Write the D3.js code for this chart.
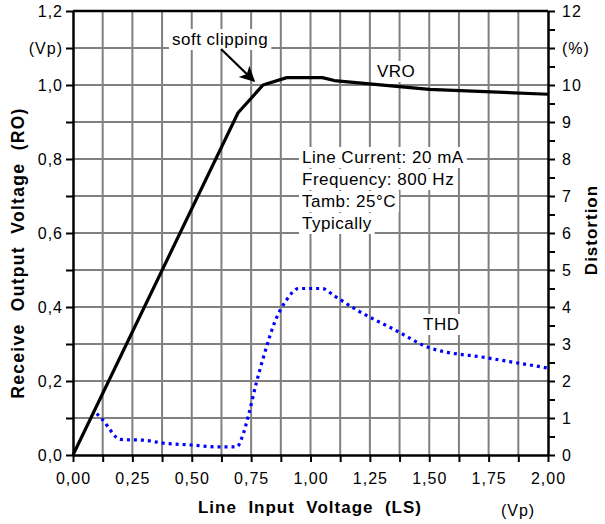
<!DOCTYPE html>
<html>
<head>
<meta charset="utf-8">
<script src="https://cdn.jsdelivr.net/npm/d3@7/dist/d3.min.js"></script>
<style>
body { margin: 0; background: #fff; }
text { font-family: "Liberation Sans", Arial, sans-serif; }
</style>
</head>
<body>
<div id="chart"></div>
<script>
// data
var vroX = [0, 0.695, 0.8, 0.9, 1.05, 1.1, 1.5, 2.0];
var vroY = [0, 0.925, 1.0, 1.02, 1.02, 1.012, 0.988, 0.975];

var thdX = [0.1, 0.125, 0.2, 0.3, 0.38, 0.5, 0.6, 0.69, 0.71, 0.74, 0.77, 0.8, 0.85, 0.9, 0.95, 1.05, 1.1, 1.2, 1.35, 1.5, 1.75, 2.0];
var thdY = [1.12, 0.95, 0.42, 0.4, 0.32, 0.27, 0.22, 0.22, 0.45, 1.1, 1.9, 2.6, 3.6, 4.2, 4.5, 4.5, 4.3, 3.9, 3.4, 2.9, 2.62, 2.35];

var xTicks = [0, 0.25, 0.5, 0.75, 1, 1.25, 1.5, 1.75, 2];
var yTicks = [0, 0.2, 0.4, 0.6, 0.8, 1.0, 1.2];
var rTicks = [0, 1, 2, 3, 4, 5, 6, 7, 8, 9, 10, 12];
var infoLines = ["Line Current: 20 mA", "Frequency: 800 Hz", "Tamb: 25\u00B0C", "Typically"];

var W = 605, H = 524;
var pL = 73, pR = 548, pT = 11, pB = 455;

var svg = d3.select("#chart").append("svg").attr("width", W).attr("height", H);

var x = d3.scaleLinear().domain([0, 2]).range([pL, pR]);
var y = d3.scaleLinear().domain([0, 1.2]).range([pB, pT]);
var y2 = d3.scaleLinear().domain([0, 12]).range([pB, pT]);

function comma(v, n){ return v.toFixed(n).replace(".", ","); }

///////////////////////////////////////
// grid
var grid = svg.append("g").attr("stroke", "#808080").attr("stroke-width", 2);
grid.selectAll(".gx").data(d3.range(1, 16).map(function(i){ return i * 0.125; }))
	.enter().append("line")
	.attr("x1", function(d){ return x(d); }).attr("x2", function(d){ return x(d); })
	.attr("y1", pT).attr("y2", pB);
grid.selectAll(".gy").data(d3.range(1, 12).map(function(i){ return i * 0.1; }))
	.enter().append("line")
	.attr("y1", function(d){ return y(d); }).attr("y2", function(d){ return y(d); })
	.attr("x1", pL).attr("x2", pR);

///////////////////////////////////////
// axes
var fs = "16px";
var xAxis = svg.append("g").attr("transform", "translate(0," + pB + ")")
	.call(d3.axisBottom(x).tickValues(d3.range(0, 17).map(function(i){ return i * 0.125; }))
		.tickSize(7).tickSizeOuter(0)
		.tickFormat(function(d){ return xTicks.indexOf(d) >= 0 ? comma(d, 2) : ""; }));
var yAxis = svg.append("g").attr("transform", "translate(" + pL + ",0)")
	.call(d3.axisLeft(y).tickValues(d3.range(0, 13).map(function(i){ return +(i * 0.1).toFixed(1); }))
		.tickSize(7).tickSizeOuter(0)
		.tickFormat(function(d){
			if (Math.abs(d - 1.1) < 1e-6) return "(Vp)";
			return yTicks.indexOf(d) >= 0 ? comma(d, 1) : "";
		}));
var rAxis = svg.append("g").attr("transform", "translate(" + pR + ",0)")
	.call(d3.axisRight(y2).tickValues(d3.range(0, 25).map(function(i){ return i * 0.5; }))
		.tickSize(7).tickSizeOuter(0)
		.tickFormat(function(d){
			if (d === 11) return "(%)";
			return rTicks.indexOf(d) >= 0 ? d : "";
		}));

[xAxis, yAxis, rAxis].forEach(function(a){
	a.select(".domain").attr("stroke", "#000").attr("stroke-width", 2.5);
	a.selectAll(".tick line").attr("stroke", "#000").attr("stroke-width", 2);
	a.selectAll(".tick text").attr("fill", "#000")
		.style("font-family", '"Liberation Sans", Arial, sans-serif')
		.style("font-size", fs).style("letter-spacing", "1px");
});
xAxis.selectAll(".tick text").attr("y", 18);
yAxis.selectAll(".tick text").attr("x", -10);
rAxis.selectAll(".tick text").attr("x", 14);

// top border
svg.append("line").attr("x1", pL).attr("x2", pR).attr("y1", pT).attr("y2", pT)
	.attr("stroke", "#000").attr("stroke-width", 2.5);

///////////////////////////////////////
// titles
svg.append("text").attr("x", 310).attr("y", 513).attr("text-anchor", "middle")
	.style("font-weight", "bold").style("font-size", "17px").style("letter-spacing", "1px")
	.attr("xml:space", "preserve").text("Line  Input  Voltage  (LS)");
svg.append("text").attr("x", 518).attr("y", 516).attr("text-anchor", "middle")
	.style("font-size", fs).style("letter-spacing", "1px").text("(Vp)");
svg.append("text").attr("transform", "translate(24,253) rotate(-90)").attr("text-anchor", "middle")
	.style("font-weight", "bold").style("font-size", "17.5px").style("letter-spacing", "1.3px")
	.attr("xml:space", "preserve").text("Receive  Output  Voltage  (RO)");
svg.append("text").attr("transform", "translate(597,230) rotate(-90)").attr("text-anchor", "middle")
	.style("font-weight", "bold").style("font-size", "17px").style("letter-spacing", "1px")
	.text("Distortion");

///////////////////////////////////////
// labels with white background
function label(tx, ty, str){
	var g = svg.append("g");
	var t = g.append("text").attr("x", tx).attr("y", ty)
		.style("font-size", "17px").style("letter-spacing", "0.5px").text(str);
	var b = t.node().getBBox();
	g.insert("rect", "text").attr("x", b.x - 3).attr("y", b.y - 1)
		.attr("width", b.width + 6).attr("height", b.height + 2).attr("fill", "#fff");
}
label(172, 45, "soft clipping");
label(377, 77, "VRO");
label(423, 330, "THD");
infoLines.forEach(function(s, i){ label(302, 163 + i * 22, s); });

///////////////////////////////////////
// lines
var vroLine = d3.line().x(function(d){ return x(d[0]); }).y(function(d){ return y(d[1]); });
svg.append("path").datum(d3.zip(vroX, vroY)).attr("d", vroLine)
	.attr("fill", "none").attr("stroke", "#000").attr("stroke-width", 3.2)
	.attr("stroke-linejoin", "round");

var thdLine = d3.line().curve(d3.curveMonotoneX)
	.x(function(d){ return x(d[0]); }).y(function(d){ return y2(d[1]); });
svg.append("path").datum(d3.zip(thdX, thdY)).attr("d", thdLine)
	.attr("fill", "none").attr("stroke", "#0000ff").attr("stroke-width", 3.2)
	.attr("stroke-dasharray", "3,4");

// arrow
svg.append("defs").append("marker").attr("id", "arr")
	.attr("viewBox", "0 0 10 10").attr("refX", 9).attr("refY", 5)
	.attr("markerWidth", 8).attr("markerHeight", 7).attr("orient", "auto")
	.attr("markerUnits", "strokeWidth")
	.append("path").attr("d", "M0,0 L10,5 L0,10 L2.5,5 Z").attr("fill", "#000");
svg.append("line").attr("x1", 221).attr("y1", 49).attr("x2", 254).attr("y2", 81)
	.attr("stroke", "#000").attr("stroke-width", 2.2).attr("marker-end", "url(#arr)");
</script>
</body>
</html>
